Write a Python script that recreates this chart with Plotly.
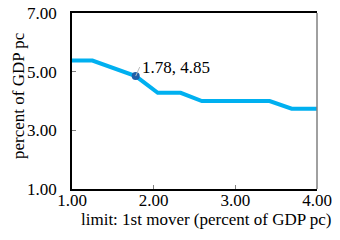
import plotly.graph_objects as go

limit_x = [1.00, 1.25, 1.78, 2.05, 2.33, 2.59, 3.42, 3.69, 4.00]
pct_y = [5.38, 5.38, 4.85, 4.28, 4.28, 4.00, 4.00, 3.74, 3.74]
point_x = [1.78]
point_y = [4.85]
x_ticks = [1.0, 2.0, 3.0, 4.0]
y_ticks = [1.0, 3.0, 5.0, 7.0]
x_title = "limit: 1st mover (percent of GDP pc)"
y_title = "percent of GDP pc"

FONT = "Liberation Serif"
W, H = 340, 240
L, R, T, B = 64, 31, 5, 59

fig = go.Figure()
fig.add_trace(go.Scatter(x=limit_x, y=pct_y, mode="lines",
                         line=dict(color="#00B0F0", width=4), hoverinfo="skip"))
fig.add_trace(go.Scatter(x=point_x, y=point_y, mode="markers",
                         marker=dict(color="#1F5FA8", size=8), hoverinfo="skip"))
fig.add_annotation(x=point_x[0], y=point_y[0], text=f"{point_x[0]:.2f}, {point_y[0]:.2f}",
                   showarrow=True, arrowhead=0, arrowwidth=1, arrowcolor="#BBBBBB",
                   ax=4, ay=-9, xanchor="left", yanchor="middle",
                   font=dict(family=FONT, size=17, color="black"))
fig.add_shape(type="line", xref="paper", yref="paper", x0=1, x1=1, y0=0, y1=1,
              line=dict(color="#808080", width=1.5))

pw, ph = W - L - R, H - T - B
# axis titles placed as annotations (paper coords)
fig.add_annotation(xref="paper", yref="paper", x=(198 - L) / pw, y=(H - B - 211) / ph,
                   text=x_title, showarrow=False, xanchor="center", yanchor="middle",
                   font=dict(family=FONT, size=17, color="black"))
fig.add_annotation(xref="paper", yref="paper", x=(10 - L) / pw, y=(H - B - 88) / ph,
                   text=y_title, showarrow=False, textangle=-90, xanchor="center", yanchor="middle",
                   font=dict(family=FONT, size=17, color="black"))

fig.update_layout(
    width=W, height=H,
    margin=dict(l=L, r=R, t=T, b=B, autoexpand=False),
    paper_bgcolor="white", plot_bgcolor="white",
    showlegend=False,
    font=dict(family=FONT, size=17, color="black"),
    xaxis=dict(range=[1, 4], tickvals=x_ticks, ticktext=[f"{v:.2f}" for v in x_ticks],
               showgrid=False, zeroline=False, showline=True, linecolor="black", linewidth=1.5,
               mirror=True, ticks="inside", ticklen=4, tickcolor="#808080",
               automargin=False, ticklabelstandoff=-5, ticklabeloverflow="allow",
               tickfont=dict(size=17)),
    yaxis=dict(range=[1, 7], tickvals=y_ticks, ticktext=[f"{v:.2f}" for v in y_ticks],
               showgrid=False, zeroline=False, showline=True, linecolor="black", linewidth=1.5,
               ticks="inside", ticklen=4, tickcolor="#808080",
               automargin=False, ticklabelstandoff=10, ticklabeloverflow="allow",
               tickfont=dict(size=17)),
)

fig.write_html("out.html")
